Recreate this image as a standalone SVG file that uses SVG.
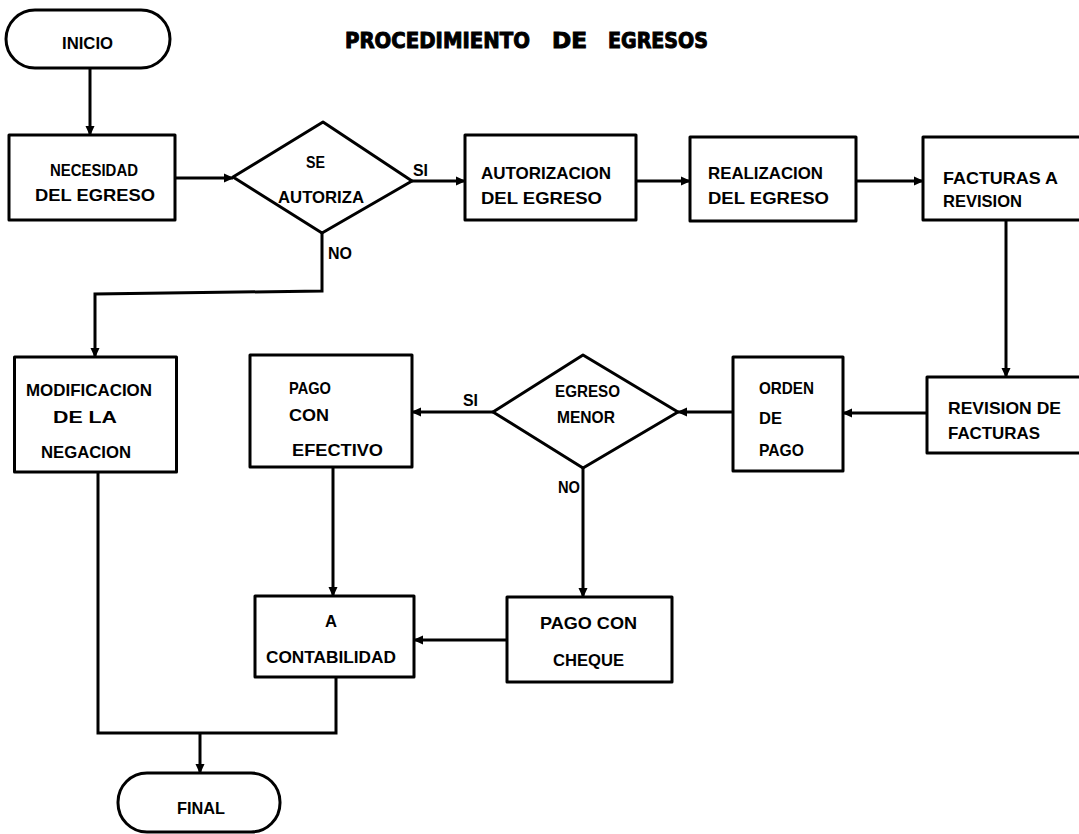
<svg xmlns="http://www.w3.org/2000/svg" width="1079" height="834" viewBox="0 0 1079 834">
<style>
.s{fill:#fff;stroke:#000;stroke-width:3;stroke-linejoin:round}
.c{fill:none;stroke:#000;stroke-width:3;stroke-linejoin:miter}
.t{font-family:"Liberation Sans",Arial,sans-serif;font-weight:bold;font-size:16.5px;fill:#000}
.h{font-family:"DejaVu Sans","Liberation Sans",sans-serif;font-weight:bold;font-size:21px;fill:#000;stroke:#000;stroke-width:1}
</style>
<defs>
<marker id="a" markerUnits="userSpaceOnUse" markerWidth="10" markerHeight="10" refX="9" refY="5" orient="auto">
<path d="M0,0.5 L10,5 L0,9.5 z" fill="#000"/>
</marker>
</defs>
<rect width="1079" height="834" fill="#fff"/>
<g id="title">
<text class="h" x="345" y="48" textLength="185" lengthAdjust="spacingAndGlyphs">PROCEDIMIENTO</text>
<text class="h" x="552" y="48" textLength="35" lengthAdjust="spacingAndGlyphs">DE</text>
<text class="h" x="608" y="48" textLength="100" lengthAdjust="spacingAndGlyphs">EGRESOS</text>
</g>
<g id="connectors">
<path class="c" d="M90,68 V135" marker-end="url(#a)"/>
<path class="c" d="M175,178 H233" marker-end="url(#a)"/>
<path class="c" d="M412,181 H465" marker-end="url(#a)"/>
<path class="c" d="M636,181 H690" marker-end="url(#a)"/>
<path class="c" d="M856,181 H923" marker-end="url(#a)"/>
<path class="c" d="M1006,220 V377" marker-end="url(#a)"/>
<path class="c" d="M927,413 H843" marker-end="url(#a)"/>
<path class="c" d="M733,412 H678" marker-end="url(#a)"/>
<path class="c" d="M493,412 H412" marker-end="url(#a)"/>
<path class="c" d="M583,468 V597" marker-end="url(#a)"/>
<path class="c" d="M322,233 V291 L95,294 V357" marker-end="url(#a)"/>
<path class="c" d="M333,467 V596" marker-end="url(#a)"/>
<path class="c" d="M507,640 H414" marker-end="url(#a)"/>
<path class="c" d="M98,472 V733 H336 V677"/>
<path class="c" d="M200,733 V773" marker-end="url(#a)"/>
<text class="t" x="413" y="176" textLength="15" lengthAdjust="spacingAndGlyphs">SI</text>
<text class="t" x="328" y="259" textLength="24" lengthAdjust="spacingAndGlyphs">NO</text>
<text class="t" x="463" y="406" textLength="15" lengthAdjust="spacingAndGlyphs">SI</text>
<text class="t" x="558" y="493" textLength="22" lengthAdjust="spacingAndGlyphs">NO</text>
</g>
<g id="inicio">
<rect class="s" x="6" y="10" width="164" height="58" rx="29"/>
<text class="t" x="62" y="49" textLength="51" lengthAdjust="spacingAndGlyphs">INICIO</text>
</g>
<g id="necesidad">
<rect class="s" x="9" y="135" width="166" height="85"/>
<text class="t" x="50" y="176" textLength="88" lengthAdjust="spacingAndGlyphs">NECESIDAD</text>
<text class="t" x="35" y="201" textLength="120" lengthAdjust="spacingAndGlyphs">DEL  EGRESO</text>
</g>
<g id="se-autoriza">
<path class="s" d="M233,177 L323,122 L412,181 L322,233 Z"/>
<text class="t" x="306" y="168" textLength="19" lengthAdjust="spacingAndGlyphs">SE</text>
<text class="t" x="278" y="203" textLength="86" lengthAdjust="spacingAndGlyphs">AUTORIZA</text>
</g>
<g id="autorizacion">
<rect class="s" x="465" y="135" width="171" height="85"/>
<text class="t" x="481" y="179" textLength="130" lengthAdjust="spacingAndGlyphs">AUTORIZACION</text>
<text class="t" x="481" y="204" textLength="121" lengthAdjust="spacingAndGlyphs">DEL  EGRESO</text>
</g>
<g id="realizacion">
<rect class="s" x="690" y="137" width="166" height="84"/>
<text class="t" x="708" y="179" textLength="115" lengthAdjust="spacingAndGlyphs">REALIZACION</text>
<text class="t" x="708" y="204" textLength="121" lengthAdjust="spacingAndGlyphs">DEL  EGRESO</text>
</g>
<g id="facturas-a-revision">
<rect class="s" x="923" y="137" width="170" height="83"/>
<text class="t" x="943" y="184" textLength="115" lengthAdjust="spacingAndGlyphs">FACTURAS  A</text>
<text class="t" x="943" y="207" textLength="79" lengthAdjust="spacingAndGlyphs">REVISION</text>
</g>
<g id="modificacion">
<rect class="s" x="14.5" y="357" width="162" height="115"/>
<text class="t" x="26" y="396" textLength="126" lengthAdjust="spacingAndGlyphs">MODIFICACION</text>
<text class="t" x="53" y="423" textLength="64" lengthAdjust="spacingAndGlyphs">DE  LA</text>
<text class="t" x="41" y="458" textLength="90" lengthAdjust="spacingAndGlyphs">NEGACION</text>
</g>
<g id="pago-efectivo">
<rect class="s" x="250" y="355" width="162" height="112"/>
<text class="t" x="289" y="394" textLength="42" lengthAdjust="spacingAndGlyphs">PAGO</text>
<text class="t" x="289" y="421" textLength="40" lengthAdjust="spacingAndGlyphs">CON</text>
<text class="t" x="292" y="456" textLength="91" lengthAdjust="spacingAndGlyphs">EFECTIVO</text>
</g>
<g id="egreso-menor">
<path class="s" d="M493,412 L583,355 L678,412 L583,468 Z"/>
<text class="t" x="555" y="397" textLength="65" lengthAdjust="spacingAndGlyphs">EGRESO</text>
<text class="t" x="557" y="423" textLength="58" lengthAdjust="spacingAndGlyphs">MENOR</text>
</g>
<g id="orden-de-pago">
<rect class="s" x="733" y="357" width="110" height="114"/>
<text class="t" x="759" y="394" textLength="55" lengthAdjust="spacingAndGlyphs">ORDEN</text>
<text class="t" x="759" y="424" textLength="23" lengthAdjust="spacingAndGlyphs">DE</text>
<text class="t" x="759" y="456" textLength="45" lengthAdjust="spacingAndGlyphs">PAGO</text>
</g>
<g id="revision-de-facturas">
<rect class="s" x="927" y="377" width="170" height="76"/>
<text class="t" x="948" y="414" textLength="113" lengthAdjust="spacingAndGlyphs">REVISION  DE</text>
<text class="t" x="948" y="439" textLength="92" lengthAdjust="spacingAndGlyphs">FACTURAS</text>
</g>
<g id="pago-cheque">
<rect class="s" x="507" y="597" width="165" height="85"/>
<text class="t" x="540" y="629" textLength="97" lengthAdjust="spacingAndGlyphs">PAGO  CON</text>
<text class="t" x="553" y="666" textLength="71" lengthAdjust="spacingAndGlyphs">CHEQUE</text>
</g>
<g id="contabilidad">
<rect class="s" x="255" y="596" width="159" height="81"/>
<text class="t" x="325" y="627" textLength="12" lengthAdjust="spacingAndGlyphs">A</text>
<text class="t" x="266" y="663" textLength="130" lengthAdjust="spacingAndGlyphs">CONTABILIDAD</text>
</g>
<g id="final">
<rect class="s" x="118" y="773" width="162" height="59" rx="29"/>
<text class="t" x="177" y="814" textLength="48" lengthAdjust="spacingAndGlyphs">FINAL</text>
</g>
</svg>
